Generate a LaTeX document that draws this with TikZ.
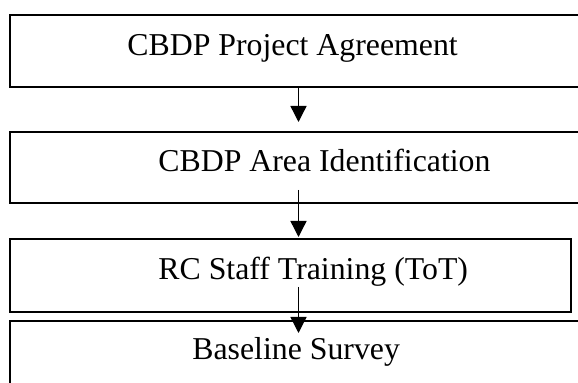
\documentclass[tikz,border=0pt]{standalone}
\usepackage{fontspec}
\setmainfont{Liberation Serif}
\usetikzlibrary{arrows.meta,calc}
\begin{document}
\begin{tikzpicture}[x=0.5pt,y=-0.5pt,
  box/.style={draw=black,line width=0.9pt,inner sep=0pt,outer sep=0pt},
  lbl/.style={anchor=base west,inner sep=0pt,font=\fontsize{15.9}{19}\selectfont},
  flow/.style={line width=0.7pt,-{Triangle[width=8pt,length=8pt]}}]
\useasboundingbox (0,0) rectangle (578,383);
\clip (0,0) rectangle (578,383);
\fill[white] (0,0) rectangle (578,383);
\node[box,minimum width=285pt,minimum height=36pt] (b1) at (295,51) {};
\node[box,minimum width=285pt,minimum height=35.5pt] (b2) at (295,167.5) {};
\node[box,minimum width=280.5pt,minimum height=36.5pt] (b3) at (290.5,275.5) {};
\node[box,minimum width=285pt,minimum height=39.5pt] (b4) at (295,360.5) {};
\node[lbl] (t1) at (127,56) {CBDP Project Agreement};
\node[lbl] (t2) at (158,172) {CBDP Area Identification};
\node[lbl] (t3) at (158,280) {RC Staff Training (ToT)};
\node[lbl] (t4) at (192,360) {Baseline Survey};
\coordinate (a1s) at (298.5,87);
\coordinate (a1e) at (298.5,122);
\coordinate (a2s) at (298.5,190);
\coordinate (a2e) at (298.5,237);
\coordinate (a3s) at (298.5,287);
\coordinate (a3e) at (298.5,333);
\draw[flow] (a1s) -- (a1e);
\draw[flow] (a2s) -- (a2e);
\draw[flow] (a3s) -- (a3e);
\end{tikzpicture}
\end{document}
